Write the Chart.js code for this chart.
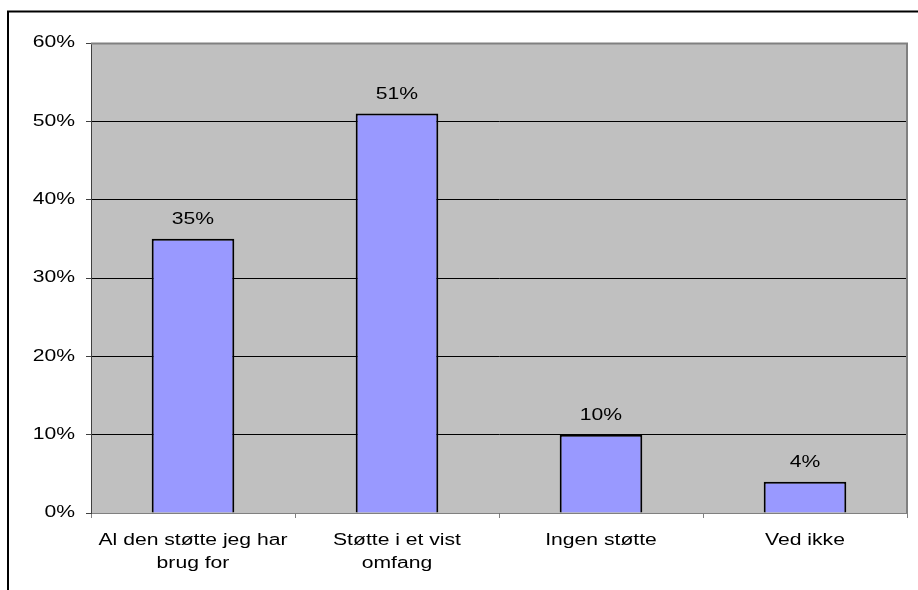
<!DOCTYPE html>
<html>
<head>
<meta charset="utf-8">
<script src="https://cdn.jsdelivr.net/npm/chart.js@4/dist/chart.umd.min.js"></script>
<style>
  body { margin: 0; background: #fff; }
  canvas { display: block; }
</style>
</head>
<body>
<canvas id="barchart" width="918" height="590"></canvas>
<script>
// answers and their share (percent)
const categories = [
    ["Al den støtte jeg har", "brug for"],
    ["Støtte i et vist", "omfang"],
    "Ingen støtte",
    "Ved ikke"
];
const shares = [35, 51, 10, 4];
const yTicks = [0, 10, 20, 30, 40, 50, 60];

const textFont = { family: "'Liberation Sans', Arial, sans-serif", size: 16 };

// the text in the picture is stretched sideways, so widen every fillText around its anchor
const canvas = document.getElementById("barchart");
const rawCtx = canvas.getContext("2d");
const plainFillText = rawCtx.fillText.bind(rawCtx);
rawCtx.fillText = function (text, x, y) {
    this.save();
    this.translate(x, y);
    this.scale(1.32, 1);
    plainFillText(text, 0, 0);
    this.restore();
};

// white page, outer frame and the grey plot area
const framePlugin = {
    id: "frame",
    beforeDraw(chart) {
        const ctx = chart.ctx;
        const area = chart.chartArea;
        ctx.save();
        ctx.fillStyle = "#ffffff";
        ctx.fillRect(0, 0, chart.width, chart.height);

        ctx.strokeStyle = "#000000";
        ctx.lineWidth = 2;
        ctx.beginPath();
        ctx.moveTo(chart.width, 11.5);
        ctx.lineTo(8, 11.5);
        ctx.lineTo(8, chart.height);
        ctx.stroke();

        ctx.fillStyle = "#c0c0c0";
        ctx.fillRect(area.left, area.top, area.right - area.left, area.bottom - area.top);
        ctx.restore();
    },
    afterDatasetsDraw(chart) {
        const ctx = chart.ctx;
        const area = chart.chartArea;
        ctx.save();
        // grey border top and right of the plot area
        ctx.strokeStyle = "#808080";
        ctx.lineWidth = 2;
        ctx.beginPath();
        ctx.moveTo(area.left, area.top + 0.5);
        ctx.lineTo(area.right, area.top + 0.5);
        ctx.lineTo(area.right, area.bottom);
        ctx.stroke();

        // value labels above the bars
        ctx.fillStyle = "#000000";
        ctx.font = "16px 'Liberation Sans', Arial, sans-serif";
        ctx.textAlign = "center";
        ctx.textBaseline = "alphabetic";
        chart.getDatasetMeta(0).data.forEach((bar, i) => {
            ctx.fillText(shares[i] + "%", bar.x, bar.y - 15);
        });
        ctx.restore();
    }
};

new Chart(canvas, {
    type: "bar",
    data: {
        labels: categories,
        datasets: [{
            data: shares,
            backgroundColor: "#9999ff",
            borderColor: "#000000",
            borderWidth: 2,
            borderSkipped: "start",
            categoryPercentage: 1,
            barPercentage: 0.405
        }]
    },
    options: {
        responsive: false,
        animation: false,
        events: [],
        layout: { padding: { top: 43, right: 11, left: 0, bottom: 0 } },
        plugins: {
            legend: { display: false },
            tooltip: { enabled: false }
        },
        scales: {
            x: {
                afterFit(scale) { scale.height = 77; },
                grid: {
                    offset: true,
                    drawOnChartArea: false,
                    drawTicks: true,
                    tickLength: 5,
                    tickColor: "#808080"
                },
                border: { color: "#808080", width: 1 },
                ticks: {
                    color: "#000000",
                    font: { ...textFont, lineHeight: 1.45 },
                    padding: 11,
                    maxRotation: 0,
                    autoSkip: false
                }
            },
            y: {
                min: 0,
                max: 60,
                afterFit(scale) { scale.width = 91; },
                afterBuildTicks(scale) { scale.ticks = yTicks.map(v => ({ value: v })); },
                grid: {
                    color: c => (c.tick && c.tick.value === 60) ? "#808080" : "#000000",
                    lineWidth: 1,
                    drawTicks: true,
                    tickLength: 5,
                    tickColor: "#404040"
                },
                border: { color: "#404040", width: 1 },
                ticks: {
                    color: "#000000",
                    font: textFont,
                    padding: 11,
                    callback: v => v + "%"
                }
            }
        }
    },
    plugins: [framePlugin]
});
</script>
</body>
</html>
